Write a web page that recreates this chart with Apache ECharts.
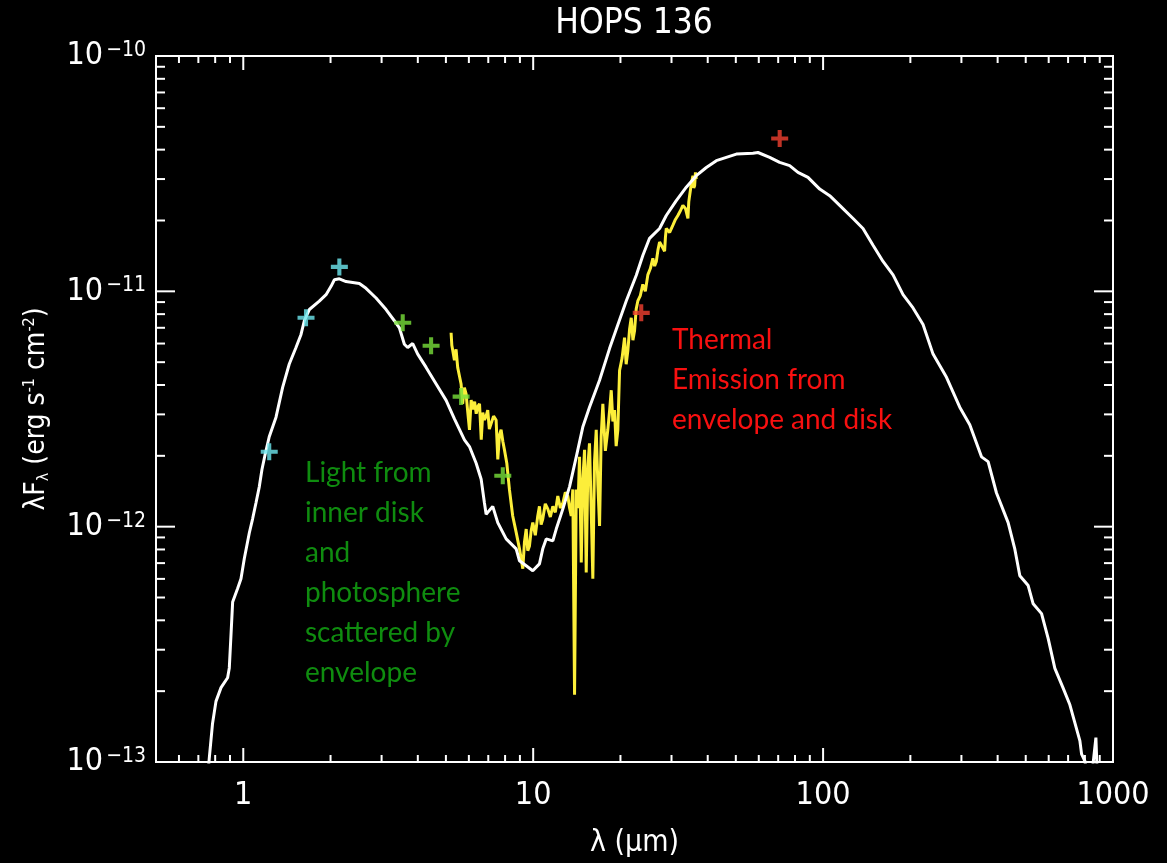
<!DOCTYPE html>
<html><head><meta charset="utf-8">
<script src="https://cdn.jsdelivr.net/npm/echarts@6/dist/echarts.min.js"></script>
<style>html,body{margin:0;padding:0;background:#000;}#chart{width:1167px;height:863px;}</style>
</head><body><div id="chart"></div>
<script>
// ---- axis ranges & ticks ----
const X_MIN = 0.5, X_MAX = 1000, Y_MIN = 1e-13, Y_MAX = 1e-10;
const xMajorTicks = [1, 10, 100, 1000];
const xTickLabels = ['1', '10', '100', '1000'];
const xMinorTicks = [0.6,0.7,0.8,0.9, 2,3,4,5,6,7,8,9, 20,30,40,50,60,70,80,90, 200,300,400,500,600,700,800,900];
const yMajorTicks = [1e-13, 1e-12, 1e-11, 1e-10];
const yTickExponents = ['\u221213', '\u221212', '\u221211', '\u221210'];
const yMinorTicks = [2e-13,3e-13,4e-13,5e-13,6e-13,7e-13,8e-13,9e-13,
  2e-12,3e-12,4e-12,5e-12,6e-12,7e-12,8e-12,9e-12,
  2e-11,3e-11,4e-11,5e-11,6e-11,7e-11,8e-11,9e-11];

// ---- model SED (white) ----
const modelWavelength = [
  0.745,0.763,0.783,0.805,0.838,0.883,0.895,0.907,0.919,0.956,
  0.982,1.008,1.049,1.077,1.106,1.136,1.160,1.191,1.229,1.297,
  1.367,1.441,1.520,1.582,1.624,1.690,1.829,1.930,2.008,2.062,
  2.145,2.262,2.515,2.651,2.871,3.109,3.320,3.455,3.595,3.691,
  3.841,3.997,4.273,4.627,5.009,5.350,5.793,6.028,6.358,6.615,
  6.790,6.882,7.253,7.547,8.069,8.737,8.969,9.459,9.968,10.51,
  10.79,11.09,11.69,12.01,12.66,13.35,14.08,14.83,15.64,16.94,
  18.34,19.59,20.94,22.68,23.89,25.20,27.29,28.78,31.16,33.74,
  36.53,39.56,42.83,46.37,50.21,57.28,59.62,65.42,70.84,76.69,
  81.91,88.70,97.34,105.4,114.1,126.9,137.3,148.7,161.0,174.3,
  188.7,204.3,221.2,239.5,266.5,296.1,320.6,351.9,370.9,396.4,
  434.8,458.6,477.1,509.8,530.4,567.0,597.4,630.2,673.1,710.0,
  768.8,779.2,799.8,832.0,873.0,887.1];
const modelFlux = [
  7.33e-14,1.03e-13,1.45e-13,1.81e-13,2.07e-13,2.28e-13,2.51e-13,3.46e-13,4.78e-13,5.46e-13,
  6.01e-13,7.30e-13,9.40e-13,1.08e-12,1.26e-12,1.48e-12,1.75e-12,2.04e-12,2.41e-12,2.92e-12,
  3.91e-12,4.91e-12,5.77e-12,6.56e-12,7.50e-12,8.37e-12,9.08e-12,9.68e-12,1.05e-11,1.12e-11,
  1.13e-11,1.10e-11,1.08e-11,1.03e-11,9.37e-12,8.37e-12,7.50e-12,7.00e-12,5.96e-12,5.77e-12,
  6.00e-12,5.41e-12,4.75e-12,4.04e-12,3.44e-12,2.87e-12,2.34e-12,2.19e-12,1.86e-12,1.59e-12,
  1.26e-12,1.13e-12,1.22e-12,1.04e-12,8.87e-13,8.05e-13,7.16e-13,6.82e-13,6.50e-13,6.95e-13,
  8.05e-13,8.87e-13,8.70e-13,9.77e-13,1.19e-12,1.48e-12,1.98e-12,2.65e-12,3.22e-12,4.19e-12,
  5.71e-12,7.21e-12,9.10e-12,1.17e-11,1.42e-11,1.68e-11,1.85e-11,2.10e-11,2.43e-11,2.77e-11,
  3.10e-11,3.36e-11,3.59e-11,3.71e-11,3.83e-11,3.86e-11,3.89e-11,3.71e-11,3.53e-11,3.42e-11,
  3.20e-11,3.05e-11,2.72e-11,2.55e-11,2.32e-11,2.04e-11,1.85e-11,1.57e-11,1.34e-11,1.175e-11,
  9.68e-12,8.50e-12,7.23e-12,5.41e-12,4.31e-12,3.22e-12,2.71e-12,1.98e-12,1.89e-12,1.39e-12,
  1.04e-12,8.02e-13,6.19e-13,5.62e-13,4.70e-13,4.27e-13,3.35e-13,2.50e-13,2.06e-13,1.75e-13,
  1.23e-13,1.08e-13,1.01e-13,7.33e-14,1.27e-13,7.33e-14];

// ---- Spitzer IRS spectrum (yellow) ----
const specWavelength = [
  5.21,5.24,5.28,5.35,5.42,5.49,5.56,5.64,5.71,5.79,
  5.87,5.95,6.03,6.11,6.19,6.28,6.36,6.45,6.53,6.62,
  6.70,6.79,6.88,6.97,7.06,7.16,7.30,7.45,7.55,7.65,
  7.75,7.86,7.96,8.11,8.28,8.50,8.74,8.97,9.21,9.33,
  9.46,9.58,9.71,9.84,9.97,10.17,10.37,10.51,10.65,10.79,
  11.01,11.23,11.46,11.69,11.92,12.16,12.41,12.66,12.91,13.17,
  13.35,13.53,13.70,13.89,14.08,14.27,14.45,14.65,14.84,15.04,
  15.24,15.44,15.64,15.85,16.06,16.28,16.50,16.72,16.94,17.16,
  17.39,17.74,18.09,18.34,18.59,18.83,19.08,19.33,19.59,19.86,
  20.26,20.66,20.93,21.21,21.50,21.79,22.08,22.37,22.66,22.96,
  23.42,23.89,24.37,24.86,25.36,25.87,26.23,26.59,26.94,27.29,
  27.84,28.40,28.59,28.78,29.56,30.34,30.95,31.56,32.20,32.84,
  33.51,34.18,34.41,34.64,35.10,35.56,35.80,36.05,36.29,36.53];
const specFlux = [
  6.67e-12,5.90e-12,5.60e-12,5.10e-12,5.67e-12,4.75e-12,4.40e-12,4.04e-12,3.33e-12,3.90e-12,
  3.67e-12,3.05e-12,2.58e-12,3.45e-12,3.15e-12,3.40e-12,3.02e-12,3.25e-12,3.33e-12,2.34e-12,
  3.05e-12,2.84e-12,2.95e-12,3.13e-12,2.60e-12,2.74e-12,2.95e-12,2.84e-12,1.93e-12,2.45e-12,
  2.58e-12,2.30e-12,2.12e-12,1.86e-12,1.44e-12,1.11e-12,9.43e-13,8.05e-13,6.63e-13,8.60e-13,
  9.77e-13,7.90e-13,8.28e-13,9.60e-13,1.04e-12,9.20e-13,1.11e-12,1.22e-12,1.02e-12,1.077e-12,
  1.25e-12,1.19e-12,1.10e-12,1.22e-12,1.15e-12,1.35e-12,1.20e-12,1.26e-12,1.40e-12,1.35e-12,
  1.20e-12,1.11e-12,1.44e-12,1.93e-13,1.44e-12,1.20e-12,1.98e-12,7.05e-13,1.60e-12,2.12e-12,
  6.39e-13,1.80e-12,2.26e-12,1.20e-12,6.01e-13,1.90e-12,2.58e-12,1.50e-12,1.006e-12,2.40e-12,
  3.33e-12,2.10e-12,2.58e-12,3.10e-12,3.80e-12,2.80e-12,3.13e-12,2.20e-12,2.58e-12,4.61e-12,
  5.20e-12,6.36e-12,4.90e-12,5.60e-12,6.90e-12,7.72e-12,6.20e-12,6.80e-12,8.40e-12,9.10e-12,
  9.60e-12,1.07e-11,1.00e-11,1.175e-11,1.25e-11,1.38e-11,1.28e-11,1.34e-11,1.50e-11,1.62e-11,
  1.55e-11,1.48e-11,1.70e-11,1.85e-11,1.78e-11,1.91e-11,2.02e-11,2.10e-11,2.20e-11,2.32e-11,
  2.25e-11,2.04e-11,2.40e-11,2.55e-11,2.85e-11,3.10e-11,2.75e-11,2.81e-11,3.20e-11,3.00e-11];

// ---- photometry ----
const nirWavelength = [1.229, 1.646, 2.145];
const nirFlux = [2.08e-12, 7.72e-12, 1.27e-11];
const iracWavelength = [3.548, 4.445, 5.642, 7.855];
const iracFlux = [7.35e-12, 5.87e-12, 3.57e-12, 1.645e-12];
const farWavelength = [23.59, 70.84];
const farFlux = [8.10e-12, 4.46e-11];

const zip = (a, b) => a.map((v, i) => [v, b[i]]);
const PLUS = 'path://M-1.2,-5L1.2,-5L1.2,-1.2L5,-1.2L5,1.2L1.2,1.2L1.2,5L-1.2,5L-1.2,1.2L-5,1.2L-5,-1.2L-1.2,-1.2Z';
const FONT = "'Liberation Sans Narrow','DejaVu Sans Condensed','Liberation Sans',sans-serif";

function isMatch(a, b) { return Math.abs(a - b) / b < 1e-6; }

const chart = echarts.init(document.getElementById('chart'), null, {renderer: 'canvas'});
const option = {
  backgroundColor: '#000',
  animation: false,
  grid: {left: 156, right: 54, top: 56, bottom: 95, show: true, borderColor: '#fff', borderWidth: 2},
  xAxis: {
    type: 'log', logBase: 10, min: X_MIN, max: X_MAX,
    axisLine: {show: true, lineStyle: {color: '#fff', width: 2}},
    axisTick: {show: false}, splitLine: {show: false}, minorTick: {show: false},
    axisLabel: {
      color: '#fff', fontFamily: FONT, fontSize: 32, margin: 18,
      formatter: v => { const i = xMajorTicks.findIndex(t => isMatch(v, t)); return i >= 0 ? xTickLabels[i] : ''; }
    },
    name: 'λ (μm)', nameLocation: 'middle', nameGap: 66,
    nameTextStyle: {color: '#fff', fontFamily: FONT, fontSize: 30}
  },
  yAxis: {
    type: 'log', logBase: 10, min: Y_MIN, max: Y_MAX,
    axisLine: {show: true, lineStyle: {color: '#fff', width: 2}},
    axisTick: {show: false}, splitLine: {show: false}, minorTick: {show: false},
    axisLabel: {
      color: '#fff', margin: 10,
      formatter: v => { const i = yMajorTicks.findIndex(t => isMatch(v, t)); return i >= 0 ? '{b|10}{s|' + yTickExponents[i] + '}' : ''; },
      rich: {
        b: {color: '#fff', fontFamily: FONT, fontSize: 32, lineHeight: 32},
        s: {color: '#fff', fontFamily: FONT, fontSize: 21, lineHeight: 21, verticalAlign: 'top', padding: [0,0,0,3]}
      }
    },
    name: '{n|λF}{sub|λ}{n| (erg s}{sup|-1}{n| cm}{sup|-2}{n|)}',
    nameLocation: 'middle', nameGap: 104, nameRotate: 90,
    nameTextStyle: {
      rich: {
        n: {color: '#fff', fontFamily: FONT, fontSize: 28, lineHeight: 30},
        sub: {color: '#fff', fontFamily: FONT, fontSize: 16, lineHeight: 30, verticalAlign: 'bottom'},
        sup: {color: '#fff', fontFamily: FONT, fontSize: 16, lineHeight: 30, verticalAlign: 'top'}
      }
    }
  },
  graphic: [
    {type: 'text', x: 634, y: 6, style: {text: 'HOPS 136', fill: '#fff', font: "35px " + FONT, textAlign: 'center', textVerticalAlign: 'top'}, z: 100},
    {type: 'text', x: 305, y: 453, style: {text: 'Light from\ninner disk\nand\nphotosphere\nscattered by\nenvelope', fill: '#0f8c0f', font: "28px Lato, 'Noto Sans', sans-serif", lineHeight: 40}, z: 100},
    {type: 'text', x: 672, y: 320, style: {text: 'Thermal\nEmission from\nenvelope and disk', fill: '#f81010', font: "28px Lato, 'Noto Sans', sans-serif", lineHeight: 40}, z: 100}
  ],
  series: [
    {type: 'line', name: 'IRS', data: zip(specWavelength, specFlux), showSymbol: false, clip: true,
     lineStyle: {color: '#fcee3a', width: 3}, itemStyle: {color: '#fcee3a'}, z: 2},
    {type: 'line', name: 'model', data: zip(modelWavelength, modelFlux), showSymbol: false, clip: true,
     lineStyle: {color: '#fff', width: 3}, z: 3},
    {type: 'scatter', data: zip(nirWavelength, nirFlux), symbol: PLUS, symbolSize: 17, itemStyle: {color: '#6ee8f0'}, z: 4},
    {type: 'scatter', data: zip(iracWavelength, iracFlux), symbol: PLUS, symbolSize: 17, itemStyle: {color: '#78e03a'}, z: 4},
    {type: 'scatter', data: zip(farWavelength, farFlux), symbol: PLUS, symbolSize: 17, itemStyle: {color: '#f04030'}, z: 4},
    {type: 'custom', silent: true, clip: false, z: 5,
     data: xMajorTicks.map(v => [v, Y_MIN, 1]).concat(xMinorTicks.map(v => [v, Y_MIN, 0])),
     renderItem: (params, api) => {
       const v = api.value(0), len = api.value(2) ? 14 : 7;
       const b = api.coord([v, Y_MIN]), t = api.coord([v, Y_MAX]);
       const st = {stroke: '#fff', lineWidth: 2};
       return {type: 'group', children: [
         {type: 'line', shape: {x1: b[0], y1: b[1], x2: b[0], y2: b[1] - len}, style: st},
         {type: 'line', shape: {x1: t[0], y1: t[1], x2: t[0], y2: t[1] + len}, style: st}
       ]};
     }},
    {type: 'custom', silent: true, clip: false, z: 5,
     data: yMajorTicks.map(v => [X_MIN, v, 1]).concat(yMinorTicks.map(v => [X_MIN, v, 0])),
     renderItem: (params, api) => {
       const v = api.value(1), len = api.value(2) ? 19 : 9;
       const l = api.coord([X_MIN, v]), r = api.coord([X_MAX, v]);
       const st = {stroke: '#fff', lineWidth: 2};
       return {type: 'group', children: [
         {type: 'line', shape: {x1: l[0], y1: l[1], x2: l[0] + len, y2: l[1]}, style: st},
         {type: 'line', shape: {x1: r[0], y1: r[1], x2: r[0] - len, y2: r[1]}, style: st}
       ]};
     }}
  ]
};
chart.setOption(option);
</script></body></html>
